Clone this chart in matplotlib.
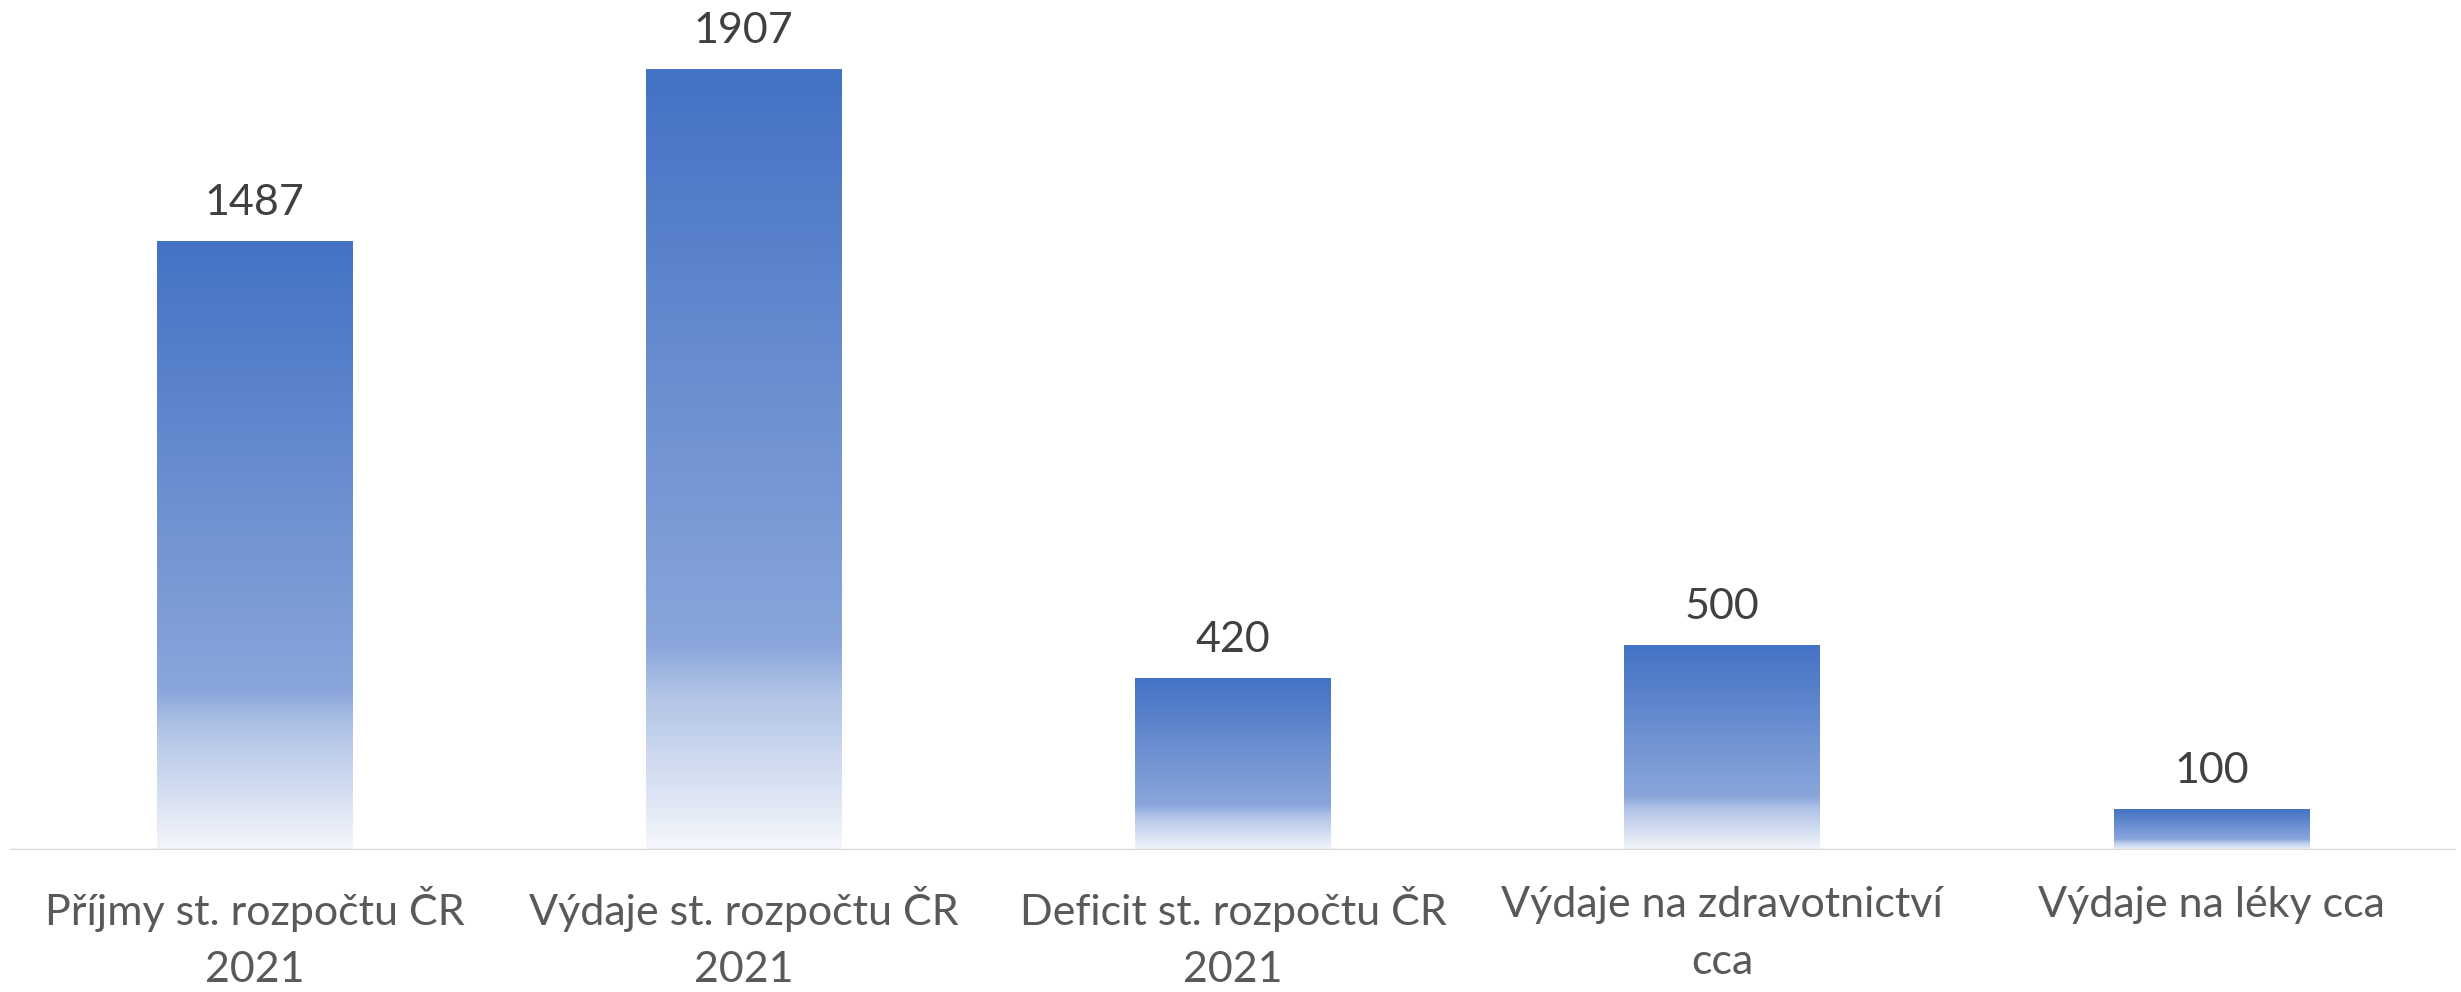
import matplotlib
matplotlib.use("Agg")
import matplotlib.pyplot as plt
from matplotlib.colors import LinearSegmentedColormap
import numpy as np

categories = ["Příjmy st. rozpočtu ČR\n2021", "Výdaje st. rozpočtu ČR\n2021",
              "Deficit st. rozpočtu ČR\n2021", "Výdaje na zdravotnictví\ncca",
              "Výdaje na léky cca"]
values = [1487, 1907, 420, 500, 100]

plt.rcParams['font.family'] = ['Lato', 'DejaVu Sans']

# excel style gradient: dark at top, fading to white at the bottom
grad = LinearSegmentedColormap.from_list("bar", [
    (0.0, "#4472C4"), (0.74, "#8AA6DB"), (0.80, "#B0C3E6"), (1.0, "#F4F6FB")])

fig = plt.figure(figsize=(24.61, 9.92), dpi=100)
ax = fig.add_axes([0.004, 0.143, 0.994, 0.825])

x = np.arange(len(values))
width = 0.4
img = np.linspace(0, 1, 256).reshape(-1, 1)
for xi, v in zip(x, values):
    ax.imshow(img, cmap=grad, aspect='auto', interpolation='bilinear',
              extent=(xi - width / 2, xi + width / 2, 0, v), origin='upper', zorder=2)
    ax.annotate(str(v), (xi, v), xytext=(0, 14), textcoords='offset points',
                ha='center', va='bottom', fontsize=31, color='#404040')

ax.set_xlim(-0.5, len(values) - 0.5)
ax.set_ylim(0, 2000)
ax.axhline(0, color='#D9D9D9', lw=2.5, zorder=3)
for s in ax.spines.values():
    s.set_visible(False)
ax.set_yticks([])
ax.set_xticks(x)
ax.set_xticklabels(categories, fontsize=31, color='#595959', linespacing=1.62)
ax.tick_params(axis='x', length=0, pad=26)

fig.savefig("out.png", dpi=100)
